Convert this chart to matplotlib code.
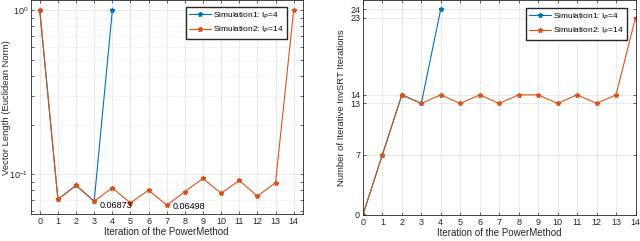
import numpy as np
import matplotlib.pyplot as plt
from matplotlib.ticker import FixedLocator, NullFormatter

plt.rcParams['font.family'] = ['Liberation Sans', 'DejaVu Sans']
plt.rcParams['font.size'] = 6.5

# 数据
it1 = [0, 1, 2, 3, 4]
it2 = list(range(15))
norm1 = [1.0, 0.0705, 0.0858, 0.06873, 1.0]
norm2 = [1.0, 0.0705, 0.0858, 0.06873, 0.0829, 0.0670, 0.0803, 0.06498,
         0.0785, 0.0946, 0.0768, 0.0920, 0.0738, 0.0890, 1.0]
inv1 = [0, 7, 14, 13, 24]
inv2 = [0, 7, 14, 13, 14, 13, 14, 13, 14, 14, 13, 14, 13, 14, 23]
labels = ['Simulation1: I$_P$=4', 'Simulation2: I$_P$=14']

c1 = '#0072BD'
c2 = '#D95319'

fig = plt.figure(figsize=(6.4, 2.41), dpi=100)
ax1 = fig.add_axes([0.048, 0.112, 0.425, 0.886])
ax2 = fig.add_axes([0.567, 0.108, 0.426, 0.890])

for ax in (ax1, ax2):
    ax.tick_params(direction='in', length=2.5, width=0.5, colors='#262626',
                   which='both', top=True, right=True, pad=2, labelsize=6.5)
    for s in ax.spines.values():
        s.set_linewidth(0.6)
        s.set_color('#262626')
    ax.set_xticks(it2)
    ax.set_xlabel('Iteration of the PowerMethod', color='#262626', labelpad=1,
                  fontsize=7)

# 左图：向量长度
ax1.plot(it1, norm1, '-*', color=c1, lw=0.8, ms=3.5, label=labels[0])
ax1.plot(it2, norm2, '-*', color=c2, lw=0.8, ms=3.5, label=labels[1])
ax1.set_yscale('log')
ax1.set_ylim(0.0574, 1.15)
ax1.set_xlim(-0.5, 14.5)
ax1.yaxis.set_minor_locator(FixedLocator(np.arange(0.06, 0.1, 0.01).tolist() +
                                         np.arange(0.2, 1.0, 0.1).tolist()))
ax1.yaxis.set_minor_formatter(NullFormatter())
ax1.grid(True, which='major', color='#e6e6e6', lw=0.6)
ax1.grid(True, which='minor', axis='y', color='#d9d9d9', lw=0.5, ls=':')
ax1.set_axisbelow(True)
ax1.set_ylabel('Vector Length (Euclidean Norm)', color='#262626', fontsize=6.8)
ax1.yaxis.set_label_coords(-0.071, 0.5)
ax1.annotate('0.06873', (3, 0.06873), xytext=(4, -3), textcoords='offset points',
             fontsize=6.5, va='center')
ax1.annotate('0.06498', (7, 0.06498), xytext=(4, -1), textcoords='offset points',
             fontsize=6.5, va='center')
ax1.legend(loc='upper right', fontsize=6, fancybox=False, edgecolor='#262626',
           framealpha=1, borderpad=0.4, handlelength=2.6, handletextpad=0.3,
           borderaxespad=0, bbox_to_anchor=(0.943, 0.97))

# 右图：InvSRT 迭代次数
ax2.plot(it1, inv1, '-*', color=c1, lw=0.8, ms=3.5, label=labels[0])
ax2.plot(it2, inv2, '-*', color=c2, lw=0.8, ms=3.5, label=labels[1])
ax2.set_xlim(0, 14)
ax2.set_ylim(0, 25)
ax2.set_yticks([0, 7, 13, 14, 23, 24])
ax2.grid(True, color='#e6e6e6', lw=0.6)
ax2.set_axisbelow(True)
ax2.set_ylabel('Number of Iterative InvSRT Iterations', color='#262626', fontsize=6.8)
ax2.yaxis.set_label_coords(-0.062, 0.5)
ax2.legend(loc='upper right', fontsize=6, fancybox=False, edgecolor='#262626',
           framealpha=1, borderpad=0.4, handlelength=2.6, handletextpad=0.3,
           borderaxespad=0, bbox_to_anchor=(0.97, 0.965))

fig.savefig('out.png', dpi=100)
